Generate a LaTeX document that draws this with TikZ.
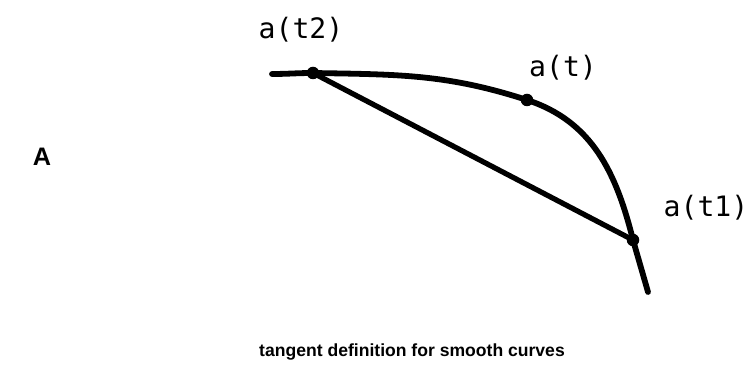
\documentclass[tikz,border=0pt]{standalone}
\usepackage{fontspec}
\setmainfont{Liberation Sans}
\newfontfamily\labelfont{DejaVu Sans Mono}
\tikzset{
  curve/.style={line width=3.3pt, line cap=round},
  chord/.style={line width=3pt, line cap=round},
  pt/.style={circle, fill=black, inner sep=0pt, minimum size=0.25cm},
  lbl/.style={font=\labelfont\fontsize{16}{18}\selectfont},
  caption/.style={font=\bfseries\fontsize{10}{12}\selectfont},
}
\begin{document}
\begin{tikzpicture}[x=0.02cm, y=0.02cm]
    \useasboundingbox (0,0) rectangle (747,378);
    \coordinate (start) at (272,304);
    \node[pt] (t2) at (313,305) {};
    \node[pt] (t) at (527,278) {};
    \node[pt] (t1) at (633,138) {};
    \coordinate (end) at (648,86);
    \node[lbl] (lt2) at (301,348) {a(t2)};
    \node[lbl] (lt) at (563,310) {a(t)};
    \node[lbl] (lt1) at (706,170) {a(t1)};
    \node[font=\bfseries\Large] (mark) at (42,221) {A};
    \node[caption] (cap) at (412,26) {tangent definition for smooth curves};
    \draw[curve] (start) to[out=0, in=180] (t2.center)
      to[out=-1, in=162] (t.center)
      to[out=-18, in=104] (t1.center) -- (end);
    \draw[chord] (t2.center) -- (t1.center);
\end{tikzpicture}
\end{document}
